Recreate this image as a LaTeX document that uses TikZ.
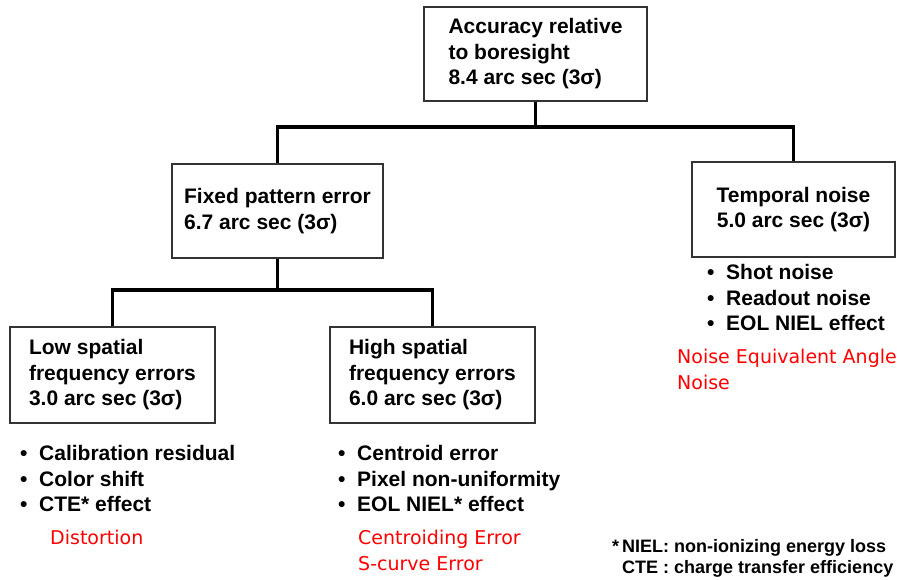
\documentclass[tikz,border=0pt]{standalone}
\usepackage{fontspec}
\setmainfont{Liberation Sans}
\newfontfamily\redfont{DejaVu Sans}
\newcommand\bul{\makebox[20pt][l]{\hspace{1pt}•}}
\begin{document}
\begin{tikzpicture}[x=1pt,y=-1pt,
  box/.style={draw=black!80,line width=1.3pt,align=left,inner sep=0pt,
    font=\fontsize{21}{25.5}\selectfont\bfseries},
  conn/.style={line width=3.3pt,black},
  bullets/.style={anchor=base west,align=left,inner sep=0pt,
    font=\fontsize{21}{25.5}\selectfont\bfseries},
  redtxt/.style={anchor=base west,align=left,inner sep=0pt,text=red,
    font=\redfont\fontsize{19}{26}\selectfont},
  foot/.style={anchor=base west,align=left,inner sep=0pt,
    font=\fontsize{18}{21}\selectfont\bfseries}]
\useasboundingbox (0,0) rectangle (897,579);
\node[box,minimum width=223pt,minimum height=94pt] (top) at (535.5,54)
  {Accuracy relative\\to boresight\\8.4 arc sec (3σ)};
\node[box,minimum width=211pt,minimum height=94pt] (fixed) at (277.5,211)
  {Fixed pattern error\\6.7 arc sec (3σ)};
\node[box,minimum width=203pt,minimum height=95pt,align=center] (temporal) at (793.5,209.5)
  {Temporal noise\\5.0 arc sec (3σ)};
\node[box,minimum width=205pt,minimum height=96pt] (low) at (112.5,375)
  {Low spatial\\frequency errors\\3.0 arc sec (3σ)};
\node[box,minimum width=205pt,minimum height=96pt] (high) at (432.5,375)
  {High spatial\\frequency errors\\6.0 arc sec (3σ)};
\coordinate (j1) at (535.5,127);
\coordinate (j2) at (277.5,290);
\draw[conn] (top.south) -- (j1);
\draw[conn] (fixed.north) |- (j1) -| (temporal.north);
\draw[conn] (fixed.south) -- (j2);
\draw[conn] (low.north) |- (j2) -| (high.north);
% base anchor of a multi-line node is the baseline of its last line
\node[bullets] (tlist) at (706,330.5)
  {\bul Shot noise\\\bul Readout noise\\\bul EOL NIEL effect};
\node[bullets] (llist) at (19,511.5)
  {\bul Calibration residual\\\bul Color shift\\\bul CTE* effect};
\node[bullets] (hlist) at (337,511.5)
  {\bul Centroid error\\\bul Pixel non-uniformity\\\bul EOL NIEL* effect};
\node[redtxt] (tred) at (677,389) {Noise Equivalent Angle\\Noise};
\node[redtxt] (lred) at (50,544) {Distortion};
\node[redtxt] (hred) at (358,570) {Centroiding Error\\S-curve Error};
\node[foot] (note) at (622,573)
  {\llap{*\hspace{3pt}}NIEL: non-ionizing energy loss\\CTE : charge transfer efficiency};
\end{tikzpicture}
\end{document}
